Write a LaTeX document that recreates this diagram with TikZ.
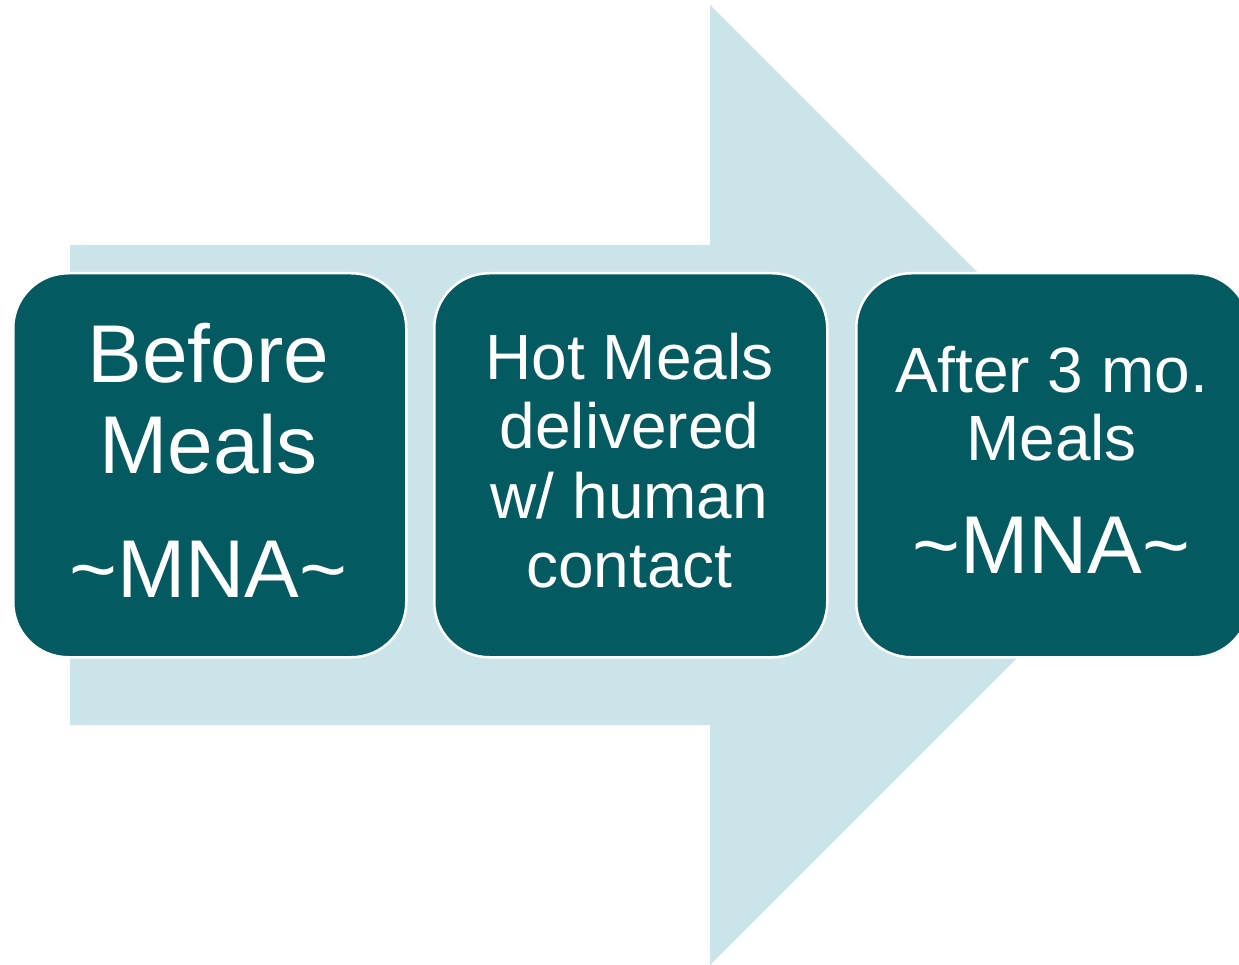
\documentclass[tikz,border=0pt]{standalone}
\usepackage{fontspec}
\setmainfont{Liberation Sans}
\definecolor{teal}{HTML}{035B61}
\definecolor{paleblue}{HTML}{CBE4E9}
\begin{document}
\begin{tikzpicture}[x=1pt,y=-1pt,
  stagebox/.style={draw=white,line width=2.5pt,fill=teal,rounded corners=55pt,
    minimum width=393pt,minimum height=384pt,inner sep=0pt,anchor=north west},
  big/.style={text=white,inner sep=0pt,anchor=base,font=\fontsize{82}{82}\selectfont},
  small/.style={text=white,inner sep=0pt,anchor=base,font=\fontsize{64}{64}\selectfont}]
\useasboundingbox (0,0) rectangle (1239,965);
\begin{scope}
\clip (0,0) rectangle (1239,965);
% broad background arrow
\fill[paleblue] (70,245) -- (710,245) -- (710,5) -- (1190,485) -- (710,965)
  -- (710,725) -- (70,725) -- cycle;
% three stages
\node[stagebox] (before) at (12,272) {};
\node[stagebox] (meals) at (433,272) {};
\node[stagebox] (after) at (855,272) {};
% stage texts
\node[big] (b1) at (208.5,382) {Before};
\node[big] (b2) at (208.5,473) {Meals};
\node[big] (b3) at (208.5,597) {\char`\~MNA\char`\~};
\node[small] (m1) at (629.5,379) {Hot Meals};
\node[small] (m2) at (629.5,448) {delivered};
\node[small] (m3) at (629.5,518) {w/ human};
\node[small] (m4) at (629.5,587) {contact};
\node[small] (a1) at (1051.5,392) {After 3 mo.};
\node[small] (a2) at (1051.5,460) {Meals};
\node[big] (a3) at (1051.5,573) {\char`\~MNA\char`\~};
\end{scope}
\end{tikzpicture}
\end{document}
